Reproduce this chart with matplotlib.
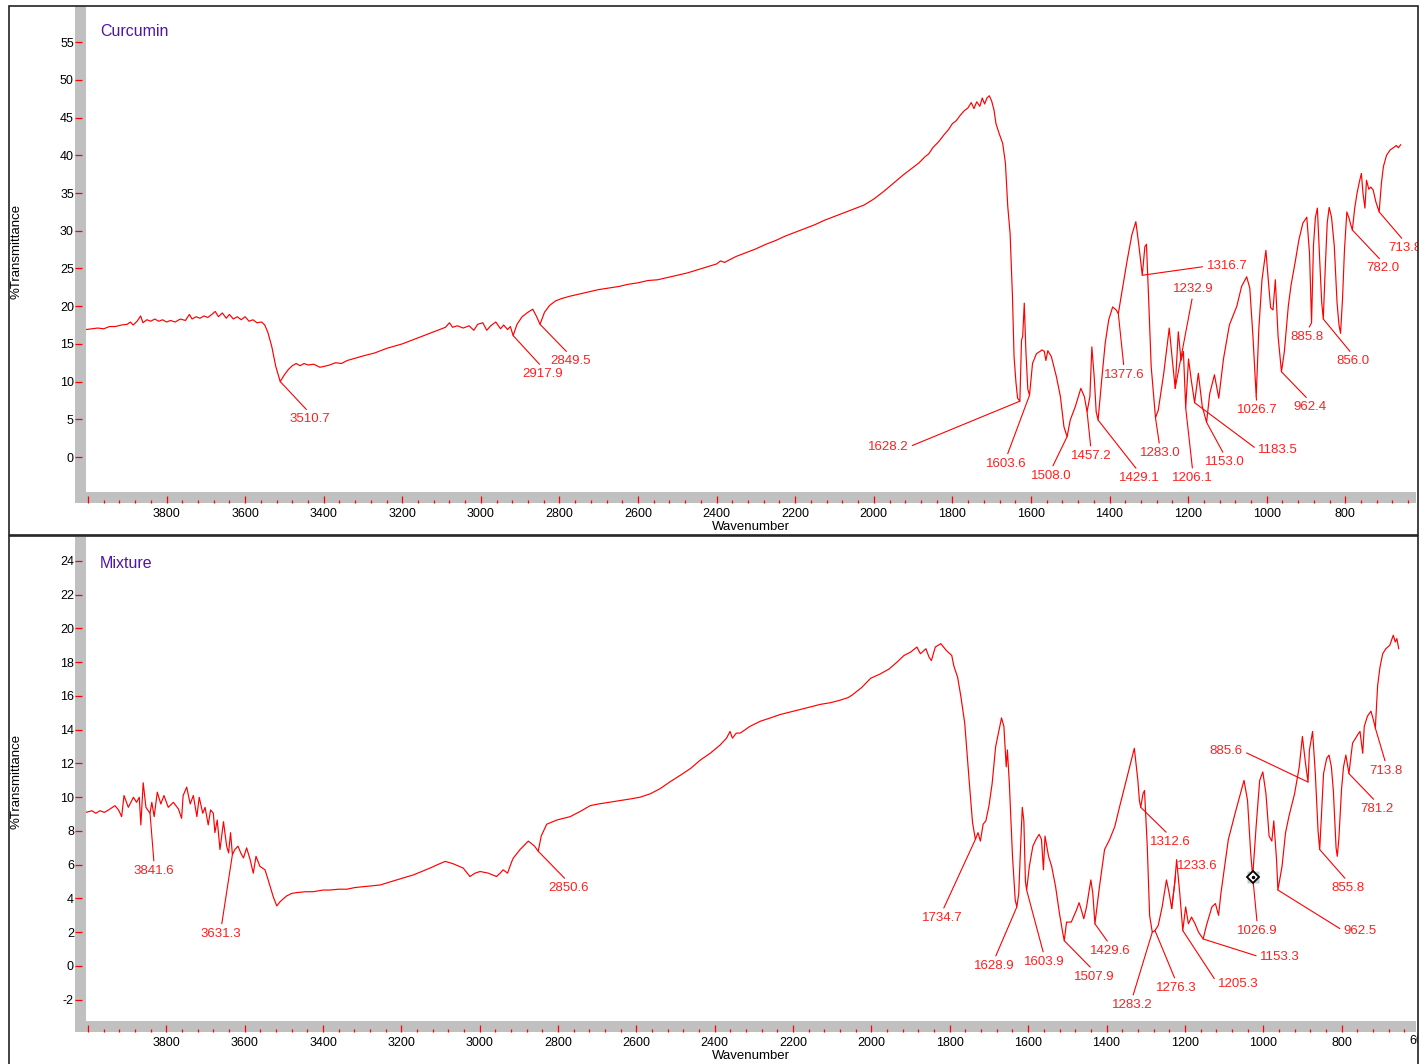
import numpy as np
import matplotlib
matplotlib.use("Agg")
import matplotlib.pyplot as plt
from matplotlib.patches import Rectangle
from matplotlib.ticker import MultipleLocator, FixedLocator, FuncFormatter
from matplotlib.transforms import Bbox

plt.rcParams['font.family'] = ['Liberation Sans', 'DejaVu Sans']
plt.rcParams['axes.unicode_minus'] = False

# ---------------- data: Curcumin ----------------
cur_wn = [4005, 3990, 3975, 3960, 3945, 3930, 3915, 3900, 3892, 3885, 3875, 3866, 3860, 3850, 3840, 3830,
          3820, 3810, 3800, 3790, 3778, 3765, 3752, 3742, 3735, 3725, 3715, 3705, 3695, 3685, 3676, 3668,
          3658, 3648, 3640, 3630, 3620, 3610, 3600, 3590, 3580, 3570, 3558, 3550, 3542, 3532, 3522, 3510.7,
          3500, 3490, 3480, 3470, 3460, 3450, 3440, 3425, 3410, 3400, 3385, 3370, 3355, 3340, 3320, 3300,
          3270, 3240, 3200, 3170, 3140, 3110, 3090, 3080, 3072, 3060, 3045, 3030, 3018, 3008, 2995, 2985,
          2975, 2962, 2950, 2942, 2932, 2925, 2917.9, 2908, 2895, 2880, 2868, 2858, 2849.5, 2838, 2825, 2810,
          2795, 2775, 2750, 2725, 2700, 2675, 2650, 2625, 2600, 2575, 2550, 2525, 2500, 2475, 2450, 2425,
          2400, 2390, 2380, 2350, 2325, 2300, 2275, 2250, 2225, 2200, 2175, 2150, 2125, 2100, 2075, 2050,
          2025, 2000, 1975, 1950, 1925, 1900, 1885, 1870, 1860, 1850, 1835, 1820, 1810, 1800, 1790, 1780,
          1770, 1760, 1752, 1745, 1738, 1730, 1724, 1718, 1712, 1706, 1700, 1694, 1689, 1681, 1672, 1665,
          1659, 1653, 1647, 1643, 1638, 1634, 1628.2, 1624, 1621, 1617, 1613, 1608, 1603.6, 1596, 1586, 1577,
          1572, 1566, 1562, 1557, 1548, 1535, 1525, 1516, 1508.0, 1500, 1487, 1473, 1464, 1457.2, 1450, 1445,
          1439, 1434, 1429.1, 1420, 1411, 1402, 1392, 1383, 1377.6, 1372, 1355, 1343, 1333, 1325, 1316.7, 1310,
          1306, 1301, 1294, 1283.0, 1276, 1262, 1248, 1241, 1232.9, 1225, 1218, 1212, 1206.1, 1199, 1192, 1183.5,
          1174, 1164, 1153.0, 1145, 1133, 1122, 1110, 1095, 1076, 1064, 1051, 1043, 1035, 1026.7, 1020, 1012,
          1002, 996, 990, 984, 978, 971, 962.4, 955, 945, 938, 928, 918, 908, 898, 891, 885.8,
          881, 876, 871, 865, 860, 856.0, 851, 846, 841, 835, 828, 821, 816, 812, 807, 802,
          796, 790, 786, 782.0, 776, 770, 764, 759, 755, 750, 746, 740, 735, 729, 722, 713.8,
          708, 703, 695, 686, 678, 670, 665, 659]
cur_t = [16.9, 17.0, 17.1, 17.0, 17.3, 17.3, 17.5, 17.6, 17.9, 17.5, 18.0, 18.7, 17.8, 18.2, 18.0, 18.3,
         18.0, 18.2, 17.9, 18.1, 17.9, 18.3, 18.1, 18.9, 18.3, 18.6, 18.4, 18.7, 18.5, 18.9, 19.3, 18.6,
         19.1, 18.4, 18.9, 18.3, 18.6, 18.2, 18.6, 18.0, 18.2, 17.8, 17.9, 17.5, 16.5, 14.6, 12.0, 10.0,
         10.9, 11.6, 12.1, 12.4, 12.1, 12.4, 12.2, 12.3, 11.9, 12.0, 12.2, 12.5, 12.4, 12.8, 13.1, 13.4,
         13.8, 14.4, 15.0, 15.6, 16.2, 16.8, 17.2, 17.8, 17.2, 17.4, 17.1, 17.4, 16.8, 17.6, 17.8, 16.8,
         17.4, 17.9, 17.0, 17.5, 16.9, 17.3, 16.1, 17.6, 18.6, 19.2, 19.6, 18.6, 17.6, 19.2, 20.1, 20.7,
         21.0, 21.3, 21.6, 21.9, 22.2, 22.4, 22.6, 22.9, 23.1, 23.4, 23.5, 23.8, 24.1, 24.4, 24.8, 25.2,
         25.6, 26.0, 25.8, 26.6, 27.1, 27.6, 28.2, 28.7, 29.3, 29.8, 30.3, 30.8, 31.4, 31.9, 32.4, 32.9,
         33.4, 34.2, 35.2, 36.3, 37.4, 38.4, 39.0, 39.8, 40.2, 41.0, 41.8, 42.8, 43.4, 44.2, 44.6, 45.3,
         45.9, 46.3, 47.0, 46.2, 47.1, 46.5, 47.6, 46.8, 47.6, 47.9, 47.2, 46.0, 44.2, 42.9, 41.6, 39.0,
         33.2, 29.6, 21.2, 13.3, 9.8, 7.8, 7.4, 15.5, 16.0, 20.4, 14.2, 9.0, 8.2, 12.4, 13.7, 14.0,
         14.2, 14.0, 12.8, 14.1, 13.3, 10.6, 8.0, 4.0, 2.7, 4.9, 6.7, 9.1, 8.0, 6.0, 8.0, 14.6,
         10.6, 6.0, 4.9, 10.2, 15.1, 18.2, 19.9, 19.5, 19.0, 20.8, 26.1, 29.5, 31.2, 27.9, 24.1, 27.9,
         28.2, 21.7, 12.0, 5.2, 6.2, 11.1, 17.1, 13.3, 9.1, 16.6, 12.8, 14.0, 6.5, 13.0, 10.2, 7.2,
         11.1, 6.7, 4.6, 8.4, 10.9, 7.8, 13.0, 17.5, 20.0, 22.6, 23.9, 22.4, 16.0, 8.0, 17.0, 23.5,
         27.4, 23.5, 19.8, 19.5, 23.5, 16.0, 11.3, 14.0, 20.0, 22.8, 25.7, 28.8, 31.0, 31.8, 27.0, 17.8,
         28.0, 31.8, 33.0, 26.0, 20.5, 18.3, 25.0, 31.0, 33.1, 31.8, 28.0, 20.5, 17.5, 16.4, 21.0, 27.5,
         32.5, 31.6, 30.8, 30.1, 33.0, 35.0, 36.5, 37.6, 35.0, 33.0, 36.7, 35.5, 35.8, 35.4, 33.8, 32.5,
         36.3, 38.5, 40.0, 40.7, 41.0, 41.3, 41.0, 41.4]
cur_peaks = [3510.7, 2917.9, 2849.5, 1628.2, 1603.6, 1508.0, 1457.2, 1429.1, 1377.6, 1316.7, 1232.9,
             1283.0, 1206.1, 1153.0, 1183.5, 1026.7, 962.4, 885.8, 856.0, 782.0, 713.8]

# ---------------- data: Mixture ----------------
mix_wn = [4005, 3990, 3980, 3969, 3958, 3944, 3931, 3922, 3914, 3908, 3897, 3884, 3876, 3869, 3865, 3859,
          3852, 3841.6, 3837, 3831, 3823, 3814, 3806, 3795, 3782, 3769, 3761, 3757, 3748, 3739, 3731, 3722,
          3716, 3707, 3701, 3693, 3687, 3680, 3676, 3670, 3663, 3654, 3646, 3641, 3636, 3631.3, 3625, 3617,
          3610, 3603, 3595, 3586, 3578, 3571, 3561, 3548, 3540, 3527, 3518, 3510, 3493, 3480, 3467, 3445,
          3425, 3400, 3382, 3360, 3339, 3318, 3297, 3275, 3254, 3233, 3212, 3190, 3169, 3148, 3127, 3108,
          3088, 3067, 3042, 3025, 3012, 2999, 2978, 2957, 2948, 2940, 2929, 2918, 2914, 2897, 2876, 2865,
          2860, 2850.6, 2843, 2829, 2803, 2769, 2744, 2718, 2697, 2670, 2642, 2615, 2591, 2565, 2540, 2515,
          2488, 2462, 2437, 2412, 2386, 2370, 2361, 2355, 2345, 2335, 2310, 2284, 2258, 2233, 2207, 2182,
          2156, 2131, 2105, 2080, 2060, 2049, 2025, 2002, 1978, 1955, 1935, 1917, 1900, 1884, 1875, 1861,
          1853, 1847, 1837, 1823, 1809, 1795, 1790, 1780, 1772, 1762, 1750, 1742, 1734.7, 1728, 1722, 1715,
          1708, 1700, 1692, 1683, 1675, 1668, 1662, 1656, 1653, 1648, 1640, 1633, 1628.9, 1624, 1620, 1615,
          1611, 1607, 1603.9, 1597, 1588, 1580, 1572, 1566, 1561, 1557, 1548, 1540, 1530, 1520, 1512, 1507.9,
          1502, 1490, 1477, 1470, 1464, 1458, 1451, 1444, 1440, 1435, 1429.6, 1418, 1405, 1392, 1379, 1367,
          1354, 1341, 1329, 1320, 1316, 1312.6, 1307, 1303, 1296, 1290, 1283.2, 1276.3, 1268, 1258, 1247, 1240,
          1233.6, 1226, 1221, 1213, 1205.3, 1198, 1191, 1183, 1174, 1165, 1153.3, 1145, 1131, 1122, 1114, 1108,
          1089, 1070, 1049, 1040, 1032, 1026.9, 1018, 1009, 1001, 993, 985, 978, 973, 966, 962.5, 952,
          943, 934, 920, 908, 900, 892, 885.6, 882, 874, 867, 860, 855.8, 850, 846, 838, 832,
          826, 821, 814, 811, 807, 800, 795, 789, 781.2, 772, 759, 753, 746, 742, 734, 725,
          719, 713.8, 708, 702, 695, 687, 677, 668, 663, 659, 654]
mix_t = [9.1, 9.2, 9.05, 9.2, 9.1, 9.3, 9.5, 9.25, 8.85, 10.1, 9.4, 10.0, 9.7, 10.0, 8.36, 10.86,
         9.4, 9.05, 9.7, 8.85, 10.3, 9.6, 10.1, 9.4, 9.7, 9.3, 8.75, 10.1, 10.6, 9.6, 10.1, 8.85,
         10.0, 9.05, 9.4, 8.36, 9.25, 9.05, 7.9, 8.65, 6.9, 8.55, 7.1, 6.7, 7.9, 6.6, 6.9, 7.1,
         6.7, 6.4, 7.0, 6.3, 5.5, 6.5, 5.9, 5.7, 5.1, 4.1, 3.56, 3.8, 4.15, 4.3, 4.35, 4.4,
         4.4, 4.5, 4.5, 4.55, 4.55, 4.65, 4.7, 4.75, 4.8, 4.95, 5.1, 5.25, 5.4, 5.6, 5.8, 6.0,
         6.2, 6.05, 5.8, 5.3, 5.5, 5.6, 5.5, 5.3, 5.5, 5.7, 5.5, 6.2, 6.4, 6.9, 7.4, 7.2,
         7.1, 6.8, 7.7, 8.4, 8.65, 8.85, 9.15, 9.5, 9.6, 9.7, 9.8, 9.9, 10.0, 10.2, 10.5, 10.9,
         11.3, 11.7, 12.2, 12.6, 13.1, 13.5, 13.9, 13.5, 13.8, 13.8, 14.2, 14.5, 14.7, 14.9, 15.05, 15.2,
         15.35, 15.5, 15.6, 15.75, 15.9, 16.06, 16.5, 17.05, 17.3, 17.6, 18.0, 18.4, 18.6, 18.9, 18.5, 18.8,
         18.3, 18.1, 18.9, 19.1, 18.7, 18.4, 17.8, 17.1, 16.0, 14.4, 10.8, 8.5, 7.5, 7.9, 7.4, 8.4,
         8.6, 9.5, 10.8, 13.0, 13.9, 14.7, 14.2, 11.8, 12.8, 10.8, 6.5, 3.9, 3.5, 4.3, 6.7, 9.4,
         8.6, 5.0, 4.5, 5.9, 7.1, 7.5, 7.8, 7.5, 5.7, 7.7, 6.5, 5.9, 4.7, 3.1, 2.0, 1.5,
         2.6, 2.6, 3.3, 3.75, 3.3, 2.8, 3.5, 4.5, 5.1, 4.3, 2.5, 4.7, 6.9, 7.5, 8.25, 9.4,
         10.6, 11.8, 12.9, 11.0, 9.8, 9.4, 10.2, 10.4, 7.1, 3.0, 2.0, 2.1, 2.4, 3.5, 5.1, 4.3,
         3.4, 4.9, 6.3, 4.3, 2.1, 3.5, 2.5, 2.9, 2.5, 2.0, 1.6, 2.4, 3.5, 3.7, 3.0, 4.3,
         7.5, 9.2, 11.0, 9.8, 6.7, 5.3, 8.3, 11.0, 11.5, 10.2, 7.7, 7.4, 8.6, 6.3, 4.5, 5.9,
         7.9, 8.9, 10.2, 11.8, 13.6, 12.0, 10.9, 12.8, 13.9, 11.4, 8.0, 6.9, 9.5, 11.4, 12.3, 12.5,
         11.8, 10.4, 7.0, 6.5, 7.5, 10.5, 11.8, 12.5, 11.4, 13.2, 13.7, 13.9, 12.6, 14.2, 14.8, 15.1,
         14.6, 14.1, 16.6, 17.7, 18.5, 18.8, 19.0, 19.6, 19.2, 19.4, 18.8]
mix_peaks = [3841.6, 3631.3, 2850.6, 1734.7, 1628.9, 1603.9, 1507.9, 1429.6, 1312.6, 1233.6, 1283.2,
             1276.3, 1205.3, 1153.3, 1026.9, 962.5, 855.8, 885.6, 781.2, 713.8]
mix_marker = 1026.9

top_yticks = [0, 5, 10, 15, 20, 25, 30, 35, 40, 45, 50, 55]
bot_yticks = [-2, 0, 2, 4, 6, 8, 10, 12, 14, 16, 18, 20, 22, 24]

# ---------------- layout (label text placement) ----------------
cur_text = [(3435, 5.0, 'b'), (2842, 11.0, 'b'), (2773, 12.7, 'b'), (1964, 1.3, 'l'), (1663, -0.9, 'b'),
            (1549, -2.5, 'b'), (1447, 0.13, 'b'), (1325, -2.8, 'b'), (1363, 10.9, 'b'), (1101, 25.3, 'r'),
            (1188, 22.3, 'a'), (1272, 0.5, 'b'), (1188, -2.8, 'b'), (1106, -0.7, 'b'), (971, 0.9, 'r'),
            (1025, 6.2, 'b'), (890, 6.6, 'b'), (897, 15.9, 'b'), (780, 12.7, 'b'), (704, 25.0, 'b'),
            (648, 27.7, 'b')]
mix_text = [(3831, 5.63, 'b'), (3660, 1.9, 'b'), (2774, 4.62, 'b'), (1820, 2.84, 'b'), (1687, 0.0, 'b'),
            (1559, 0.24, 'b'), (1432, -0.65, 'b'), (1391, 0.89, 'b'), (1238, 7.35, 'b'), (1169, 5.93, 'r'),
            (1335, -2.31, 'b'), (1222, -1.3, 'b'), (1064, -1.07, 'r'), (957, 0.53, 'r'), (1015, 2.07, 'b'),
            (752, 2.07, 'r'), (783, 4.62, 'b'), (1095, 12.74, 'l'), (709, 9.3, 'b'), (686, 11.56, 'b')]
RELPOS = {'b': (0.5, 1.0), 'a': (0.5, 0.0), 'l': (1.0, 0.5), 'r': (0.0, 0.5)}

W, H = 1428, 1064
PT = 72 / 100.0
fig = plt.figure(figsize=(W / 100, H / 100), dpi=100)
clipbox = Bbox.from_extents(0, 0, 1418, H)


def fx(px):
    return px / W


def fy(py):
    return 1 - py / H


def prect(x0, y0, x1, y1, **kw):
    r = Rectangle((fx(x0), fy(y1)), (x1 - x0) / W, (y1 - y0) / H, transform=fig.transFigure, **kw)
    fig.add_artist(r)
    return r


RED = '#FF0000'
LBL = '#FF2020'


def panel(top, bottom, xlim, ylim, yticks, wn, t, peaks, texts, name):
    ax = fig.add_axes([fx(86), fy(bottom), (1416 - 86) / W, (bottom - top) / H])
    for s in ax.spines.values():
        s.set_visible(False)
    ax.spines['left'].set_position(('outward', 11 * PT))
    ax.spines['bottom'].set_position(('outward', 11 * PT))
    ax.set_xlim(*xlim)
    ax.set_ylim(*ylim)
    ax.xaxis.set_major_locator(MultipleLocator(200))
    ax.xaxis.set_minor_locator(MultipleLocator(40))
    ax.xaxis.set_major_formatter(FuncFormatter(lambda v, p: '' if v > 3900 else f'{v:.0f}'))
    ax.yaxis.set_major_locator(FixedLocator(yticks))
    ax.tick_params(axis='x', which='major', direction='in', length=7 * PT, width=0.9, color=RED,
                   pad=3.6, labelsize=9, top=False)
    ax.tick_params(axis='x', which='minor', direction='in', length=3.5 * PT, width=0.9, color=RED, top=False)
    ax.tick_params(axis='y', which='major', direction='in', length=7 * PT, width=0.9, color=RED,
                   pad=0.8, labelsize=9, right=False)
    # gray axis bars
    prect(75, top, 86, bottom + 11, facecolor='#C0C0C0', edgecolor='none', zorder=-1)
    prect(75, bottom, 1416, bottom + 11, facecolor='#C0C0C0', edgecolor='none', zorder=-1)

    wn = np.asarray(wn, float)
    t = np.asarray(t, float)
    ax.plot(wn, t, color=RED, lw=0.85, zorder=3)
    for pk, (tx, ty, side) in zip(peaks, texts):
        py = np.interp(pk, wn[::-1], t[::-1])
        a = ax.annotate(f'{pk:.1f}', xy=(pk, py), xytext=(tx, ty), ha='center', va='center',
                        fontsize=9.5, color=LBL,
                        arrowprops=dict(arrowstyle='-', color=RED, lw=0.8, shrinkA=1, shrinkB=0,
                                        relpos=RELPOS[side]))
        a.set_clip_on(True)
        a.set_clip_box(clipbox)
    ax.text((100 - 86) / 1330, 1 - 26 / (bottom - top), name, transform=ax.transAxes,
            ha='left', va='center', fontsize=11.5, color='#5014AA')
    fig.text(fx(17), fy((top + bottom) / 2 + 2), '%Transmittance', rotation=90, ha='center',
             va='center', fontsize=9.5)
    fig.text(fx(751), fy(bottom + 35), 'Wavenumber', ha='center', va='center', fontsize=9.5)
    return ax


ax1 = panel(6, 492, (4005, 620), (-4.64, 59.8), top_yticks, cur_wn, cur_t, cur_peaks, cur_text, 'Curcumin')
ax2 = panel(537, 1021, (4005, 610), (-3.26, 25.42), bot_yticks, mix_wn, mix_t, mix_peaks, mix_text, 'Mixture')

# cursor marker on mixture spectrum
my = np.interp(mix_marker, np.asarray(mix_wn)[::-1], np.asarray(mix_t)[::-1])
ax2.plot([mix_marker], [my], marker='s', ms=9, color='#C8C8C8', mec='none', zorder=5)
ax2.plot([mix_marker], [my], marker='D', ms=6, mfc='white', mec='black', mew=1.3, zorder=6)
ax2.plot([mix_marker], [my], marker='o', ms=1.5, color='black', zorder=7)

# partially visible last tick label of lower panel
t600 = fig.text(fx(1420), fy(1041), '600', ha='center', va='center', fontsize=9)
t600.set_clip_on(True)
t600.set_clip_box(clipbox)

# outer frames
prect(9, 6, 1418, 535, facecolor='none', edgecolor='#222222', lw=1.2, zorder=10)
prect(9, 536, 1418, 1080, facecolor='none', edgecolor='#222222', lw=1.2, zorder=10)

fig.savefig('out.png', dpi=100)
